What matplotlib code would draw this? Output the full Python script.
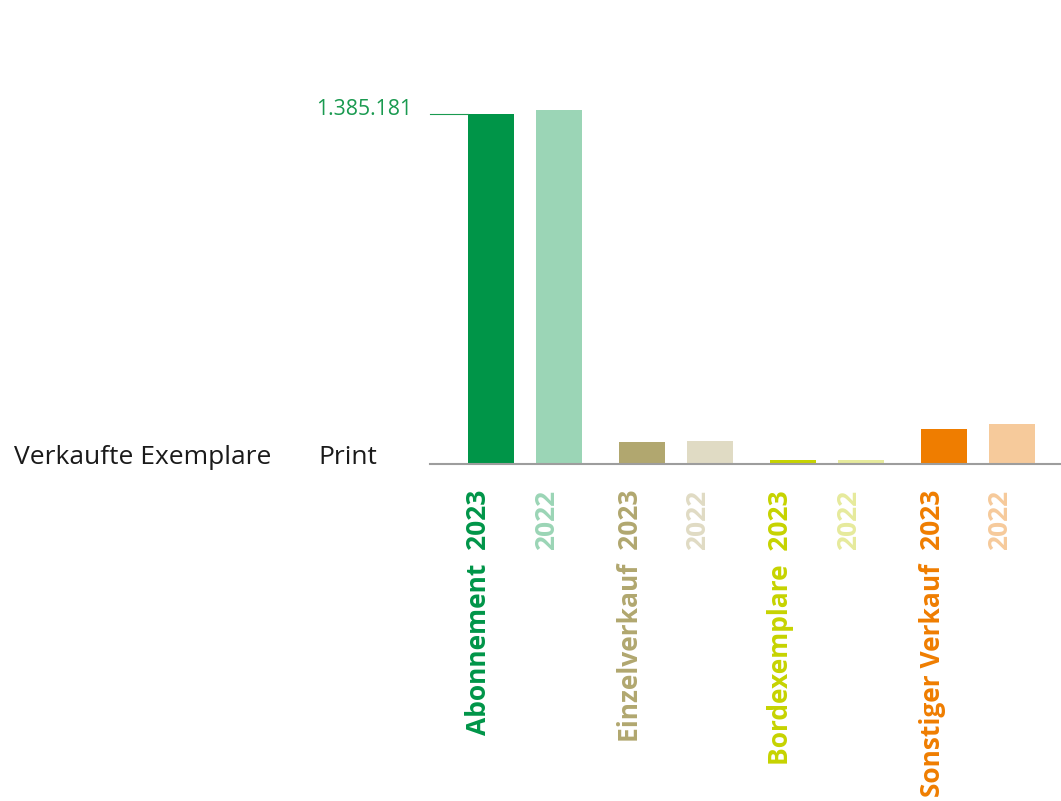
import matplotlib
matplotlib.use('Agg')
import matplotlib.pyplot as plt

plt.rcParams['font.family'] = ['Open Sans', 'DejaVu Sans']

categories = ['Abonnement', 'Einzelverkauf', 'Bordexemplare', 'Sonstiger Verkauf']
years = ['2023', '2022']
values_2023 = [1385181, 87000, 15000, 139000]
values_2022 = [1401000, 91000, 15000, 159000]
colors_2023 = ['#009548', '#b1a76f', '#c6d300', '#ef7d00']
colors_2022 = ['#9bd5b6', '#e0dbc4', '#e6ea9c', '#f6ca9b']
label_value = 1385181

W, H = 1061, 801
fig = plt.figure(figsize=(W / 100, H / 100), dpi=100)

# axes placed in pixel terms: left edge at 430, baseline at 464
ax_left, ax_right, ax_bottom, ax_top = 430, 1061, 464, 40
ax = fig.add_axes([ax_left / W, (H - ax_bottom) / H,
                   (ax_right - ax_left) / W, (ax_bottom - ax_top) / H])
ymax = label_value * (ax_bottom - ax_top) / 350
ax.set_xlim(0, ax_right - ax_left)
ax.set_ylim(0, ymax)

bar_w = 46
for g, cat in enumerate(categories):
    for j, (vals, cols) in enumerate([(values_2023, colors_2023), (values_2022, colors_2022)]):
        xc = 61 + g * 151 + j * 68
        ax.bar(xc, vals[g], width=bar_w, color=cols[g], zorder=2)
        text = f'{cat}  {years[j]}' if j == 0 else years[j]
        ax.annotate(text, xy=(xc - 12, 0), xycoords=('data', 'axes fraction'),
                    xytext=(0, -26), textcoords='offset pixels',
                    rotation=90, ha='center', va='top', fontsize=19,
                    fontweight='bold', color=cols[g], annotation_clip=False)

# value label with leader line to the first bar
ax.plot([0, 61 - bar_w / 2], [label_value, label_value], color='#1a9a50',
        lw=0.8, clip_on=False, zorder=3)
ax.annotate(f'{label_value:,}'.replace(',', '.'), xy=(0, label_value),
            xytext=(-18, 5), textcoords='offset pixels', ha='right', va='center',
            fontsize=15.3, color='#1a9a50', annotation_clip=False)

for s in ['top', 'right', 'left']:
    ax.spines[s].set_visible(False)
ax.spines['bottom'].set_color('#9d9d9d')
ax.spines['bottom'].set_linewidth(1.5)
ax.set_xticks([])
ax.set_yticks([])
ax.patch.set_alpha(0)

fig.text(14 / W, (H - 457) / H, 'Verkaufte Exemplare', fontsize=19,
         color='#1a1a1a', ha='left', va='center')
fig.text(318 / W, (H - 457) / H, 'Print', fontsize=19,
         color='#1a1a1a', ha='left', va='center')

fig.savefig('out.png', dpi=100)
